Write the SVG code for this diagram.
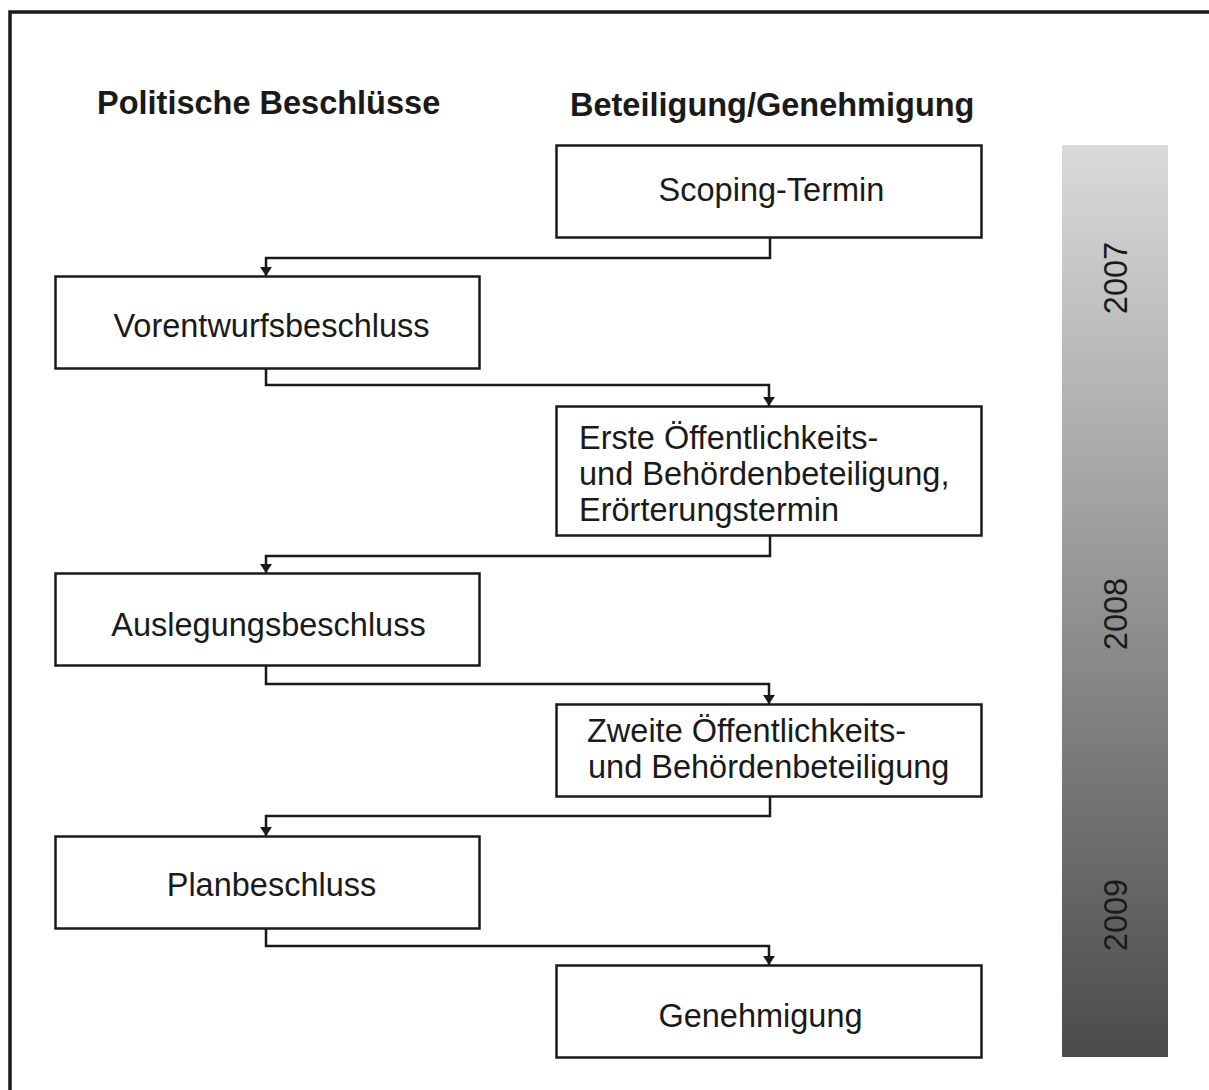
<svg xmlns="http://www.w3.org/2000/svg" width="1209" height="1090" viewBox="0 0 1209 1090">
  <defs>
    <linearGradient id="timeGrad" x1="0" y1="0" x2="0" y2="1">
      <stop offset="0" stop-color="#dadada"/>
      <stop offset="1" stop-color="#4b4b4b"/>
    </linearGradient>
    <!-- small filled arrowhead, drawn along +x so orient="auto" follows the line -->
    <marker id="arrow" markerWidth="9" markerHeight="12" refX="9" refY="6" orient="auto" markerUnits="userSpaceOnUse" viewBox="0 0 9 12">
      <path d="M0,0 L9,6 L0,12 Z" fill="#1a1a1a"/>
    </marker>
    <style>
      .box { fill: #ffffff; stroke: #1a1a1a; stroke-width: 2.5; }
      .lbl { font-family: "Liberation Sans", Arial, sans-serif; font-size: 32.5px; fill: #1a1a1a; }
      .head { font-family: "Liberation Sans", Arial, sans-serif; font-size: 32.5px; font-weight: bold; fill: #1a1a1a; }
      .year { font-family: "Liberation Sans", Arial, sans-serif; font-size: 32.5px; fill: #1a1a1a; }
      .conn { fill: none; stroke: #1a1a1a; stroke-width: 2.5; }
    </style>
  </defs>

  <rect width="1209" height="1090" fill="#ffffff"/>

  <!-- outer frame (top and left edges) -->
  <path d="M10,1090 V12 H1209" fill="none" stroke="#1a1a1a" stroke-width="3.5"/>

  <!-- column headings -->
  <text class="head" x="97" y="114">Politische Beschlüsse</text>
  <text class="head" x="570" y="116">Beteiligung/Genehmigung</text>

  <!-- timeline bar -->
  <g id="timeline">
    <rect x="1062" y="145" width="106" height="912" fill="url(#timeGrad)"/>
    <text class="year" transform="translate(1127,278) rotate(-90)" text-anchor="middle">2007</text>
    <text class="year" transform="translate(1127,614) rotate(-90)" text-anchor="middle">2008</text>
    <text class="year" transform="translate(1127,915) rotate(-90)" text-anchor="middle">2009</text>
  </g>

  <!-- connectors -->
  <g id="connectors">
    <path class="conn" d="M770,237 V258 H266 V276" marker-end="url(#arrow)"/>
    <path class="conn" d="M266,368 V385 H769 V406" marker-end="url(#arrow)"/>
    <path class="conn" d="M770,536 V556 H266 V573" marker-end="url(#arrow)"/>
    <path class="conn" d="M266,665 V684 H769 V704" marker-end="url(#arrow)"/>
    <path class="conn" d="M770,797 V816 H266 V836" marker-end="url(#arrow)"/>
    <path class="conn" d="M266,928 V946 H769 V965" marker-end="url(#arrow)"/>
  </g>

  <g id="scoping">
    <rect class="box" x="556.5" y="145.5" width="425" height="92"/>
    <text class="lbl" x="771.5" y="201" text-anchor="middle">Scoping-Termin</text>
  </g>

  <g id="vorentwurf">
    <rect class="box" x="55.5" y="276.5" width="424" height="92"/>
    <text class="lbl" x="271.5" y="337" text-anchor="middle">Vorentwurfsbeschluss</text>
  </g>

  <g id="erste">
    <rect class="box" x="556.5" y="406.5" width="425" height="129"/>
    <text class="lbl" x="579" y="449">Erste Öffentlichkeits-</text>
    <text class="lbl" x="579" y="485">und Behördenbeteiligung,</text>
    <text class="lbl" x="579" y="521">Erörterungstermin</text>
  </g>

  <g id="auslegung">
    <rect class="box" x="55.5" y="573.5" width="424" height="92"/>
    <text class="lbl" x="268.5" y="636" text-anchor="middle">Auslegungsbeschluss</text>
  </g>

  <g id="zweite">
    <rect class="box" x="556.5" y="704.5" width="425" height="92"/>
    <text class="lbl" x="587" y="742">Zweite Öffentlichkeits-</text>
    <text class="lbl" x="588" y="778">und Behördenbeteiligung</text>
  </g>

  <g id="planbeschluss">
    <rect class="box" x="55.5" y="836.5" width="424" height="92"/>
    <text class="lbl" x="271.5" y="896" text-anchor="middle">Planbeschluss</text>
  </g>

  <g id="genehmigung">
    <rect class="box" x="556.5" y="965.5" width="425" height="92"/>
    <text class="lbl" x="760.5" y="1027" text-anchor="middle">Genehmigung</text>
  </g>
</svg>
